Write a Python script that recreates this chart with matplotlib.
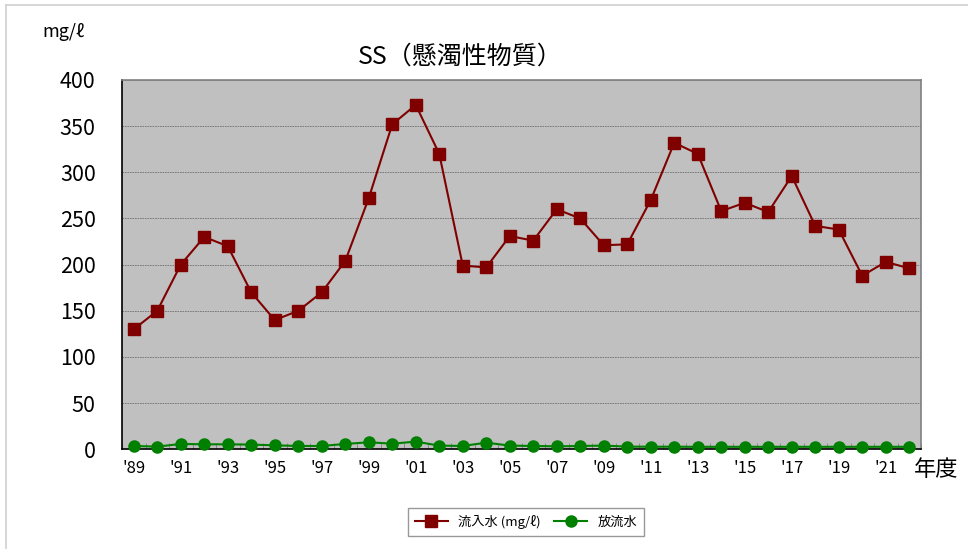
import matplotlib
matplotlib.use("Agg")
import matplotlib.pyplot as plt
from matplotlib.lines import Line2D
import numpy as np

plt.rcParams['font.family'] = ['Noto Sans CJK JP', 'DejaVu Sans']

years = list(range(1989, 2023))
tick_labels = ["'%02d" % (y % 100) if (y - 1989) % 2 == 0 else "" for y in years]
inflow = [130, 150, 200, 230, 220, 170, 140, 150, 170, 204,
          272, 352, 373, 320, 199, 197, 231, 226, 260, 250,
          221, 222, 270, 332, 320, 258, 267, 257, 296, 242,
          238, 188, 203, 196]
outflow = [3.6, 2.9, 5.8, 5.4, 5.4, 5.1, 4.3, 3.6, 3.6, 5.8,
           7.6, 6.1, 8.3, 4.0, 3.6, 7.2, 4.0, 3.6, 3.2, 3.6,
           4.0, 2.9, 2.8, 2.8, 2.7, 2.7, 2.7, 2.7, 2.7, 2.7,
           2.7, 2.7, 2.7, 2.7]
y_ticks = [0, 50, 100, 150, 200, 250, 300, 350, 400]

fig = plt.figure(figsize=(9.68, 5.49), dpi=100)
ax = fig.add_axes([122/968, 1-449.3/549, (921-122)/968, (449.3-80)/549])
ax.set_facecolor('#C0C0C0')

x = np.arange(len(years))
ax.plot(x, inflow, color='#800000', lw=1.5, marker='s', ms=9,
        markerfacecolor='#800000', markeredgecolor='#800000', label='流入水 (mg/ℓ)', zorder=3)
ax.plot(x, outflow, color='#008000', lw=1.5, marker='o', ms=8,
        markerfacecolor='#008000', markeredgecolor='#008000', label='放流水', zorder=3, clip_on=False)

ax.set_xlim(-0.5, len(years) - 0.5)
ax.set_ylim(0, 400)
ax.set_yticks(y_ticks)
ax.set_yticklabels([str(v) for v in y_ticks], fontsize=15.5)
ax.set_xticks(x)
ax.set_xticklabels(tick_labels, fontsize=12)
ax.tick_params(axis='x', length=0, pad=8)
ax.tick_params(axis='y', length=0, pad=19)
ax.set_xticks(np.arange(-0.5, len(years)), minor=True)
ax.tick_params(axis='x', which='minor', direction='in', length=4, color='#808080')

ax.yaxis.grid(True, color='#707070', ls=(0, (2, 1)), lw=0.6)
ax.set_axisbelow(True)
for s in ['top', 'right']:
    ax.spines[s].set_color('#808080')
    ax.spines[s].set_linewidth(1.2)
for s in ['left', 'bottom']:
    ax.spines[s].set_color('black')
    ax.spines[s].set_linewidth(1.2)

fig.text(460/968, 1-57/549, 'SS（懸濁性物質）', fontsize=18, ha='center', va='center')
fig.text(63/968, 1-32/549, 'mg/ℓ', fontsize=13, ha='center', va='center')
fig.text(936/968, 1-470/549, '年度', fontsize=16, ha='center', va='center')

leg = fig.legend(loc='center', bbox_to_anchor=(526/968, 1-522/549), ncol=2,
                 fontsize=9.5, frameon=True, fancybox=False, edgecolor='#808080',
                 handlelength=2.5, columnspacing=1.0, borderpad=0.5)
leg.get_frame().set_linewidth(1.0)

fig.add_artist(Line2D([6/968, 1], [1-5/549, 1-5/549], color='#D0D0D0', lw=1.2, transform=fig.transFigure))
fig.add_artist(Line2D([6/968, 6/968], [0, 1-5/549], color='#D0D0D0', lw=1.2, transform=fig.transFigure))

fig.savefig('out.png', dpi=100)
